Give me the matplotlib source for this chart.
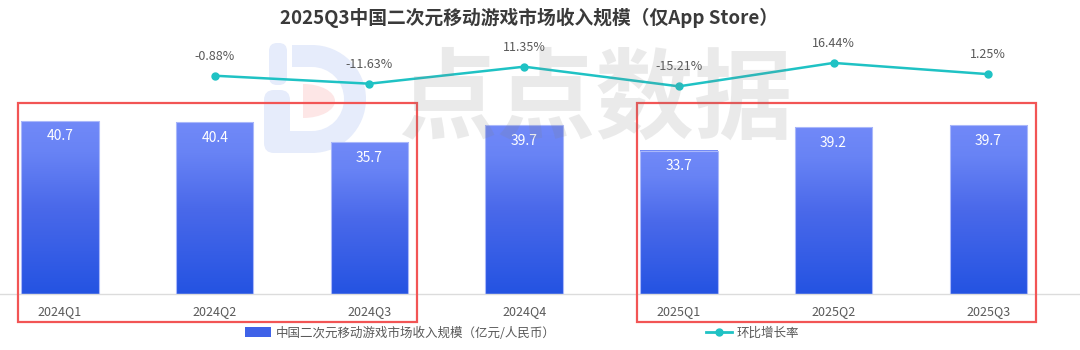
import matplotlib
matplotlib.use("Agg")
import matplotlib.pyplot as plt
import numpy as np
from matplotlib.colors import LinearSegmentedColormap
from matplotlib.patches import Rectangle, Wedge, FancyBboxPatch, Patch, Ellipse
from matplotlib.lines import Line2D

plt.rcParams['font.family'] = ['Noto Sans CJK SC', 'DejaVu Sans']

# data
quarters = ["2024Q1", "2024Q2", "2024Q3", "2024Q4", "2025Q1", "2025Q2", "2025Q3"]
revenue = [40.7, 40.4, 35.7, 39.7, 33.7, 39.2, 39.7]          # 亿元
growth_idx = [1, 2, 3, 4, 5, 6]
growth = [-0.88, -11.63, 11.35, -15.21, 16.44, 1.25]          # %
groups = [(0, 2), (4, 6)]                                     # boxed quarters

TEAL = "#1fc2c4"
RED = "#f25555"
GREY = "#595959"
LOGO_BLUE = "#e6ecfb"
LOGO_PINK = "#fde6e6"

fig = plt.figure(figsize=(10.8, 3.5), dpi=100)

# background layer (pixel coords) with the logo part of the watermark
bg = fig.add_axes([0, 0, 1, 1], zorder=0)
bg.set_xlim(0, 1080)
bg.set_ylim(350, 0)
bg.axis("off")
# pink half-ellipse inside the D
bg.add_patch(Ellipse((303, 101), 64, 34, facecolor=LOGO_PINK, edgecolor="none"))
bg.add_patch(Rectangle((268, 80), 35, 45, facecolor="white", edgecolor="none"))
# the "i" and the "D"
bg.add_patch(FancyBboxPatch((269, 43), 18, 42, boxstyle="round,pad=0,rounding_size=8",
                            facecolor=LOGO_BLUE, edgecolor="none"))
bg.add_patch(FancyBboxPatch((264, 90), 26, 63, boxstyle="round,pad=0,rounding_size=10",
                            facecolor=LOGO_BLUE, edgecolor="none"))
bg.add_patch(Rectangle((276, 131), 36, 22, facecolor=LOGO_BLUE, edgecolor="none"))
bg.add_patch(Rectangle((292, 45), 20, 22, facecolor=LOGO_BLUE, edgecolor="none"))
bg.add_patch(Wedge((312, 99), 54, -90, 90, width=22, facecolor=LOGO_BLUE, edgecolor="none"))

ax = fig.add_axes([0, 56 / 350, 1, 254 / 350], zorder=1)
ax.patch.set_alpha(0)

x = np.arange(len(quarters))
width = 0.5

# gradient bars: light on top, strong blue at the bottom
cmap = LinearSegmentedColormap.from_list(
    "bar", [(0, "#2453e2"), (0.5, "#4a69ea"), (0.82, "#6883f5"), (1, "#7189f8")])
grad = np.linspace(0, 1, 256).reshape(-1, 1)
for xi, h in zip(x, revenue):
    ax.imshow(grad, extent=[xi - width / 2, xi + width / 2, 0, h],
              cmap=cmap, aspect="auto", origin="lower", zorder=2)
ax.bar(x, revenue, width, facecolor="none", edgecolor="#aab8fa", linewidth=0.8, zorder=3)

for xi, h in zip(x, revenue):
    ax.annotate(f"{h:.1f}", (xi, h), xytext=(0, -11), textcoords="offset points",
                ha="center", va="center", color="white", fontsize=10, zorder=4)

ax.set_xlim(-0.388, 6.593)
ax.set_ylim(0, 59.76)
ax.set_xticks(x)
ax.set_xticklabels(quarters, color=GREY, fontsize=9)
ax.tick_params(axis="x", length=0, pad=8)
ax.set_yticks([])
for s in ["top", "right", "left"]:
    ax.spines[s].set_visible(False)
ax.spines["bottom"].set_color("#dcdcdc")
ax.spines["bottom"].set_linewidth(1)

# red boxes around the compared quarters
for a, b in groups:
    ax.add_patch(Rectangle((a - 0.27, -6.6), (b - a) + 0.58, 51.6, fill=False,
                           edgecolor=RED, linewidth=1.6, clip_on=False, zorder=6))

# growth line on a second axis
ax2 = ax.twinx()
ax2.set_ylim(-295.8, 47.4)
ax2.plot(growth_idx, growth, color=TEAL, linewidth=1.8, marker="o", markersize=5, zorder=5)
for xi, g in zip(growth_idx, growth):
    ax2.annotate(f"{g:.2f}%", (xi, g), xytext=(0, 14), textcoords="offset points",
                 ha="center", va="center", color=GREY, fontsize=9)
ax2.set_yticks([])
for s in ax2.spines.values():
    s.set_visible(False)

# text part of the watermark sits over everything, semi transparent
wm = fig.add_axes([0, 0, 1, 1], zorder=5)
wm.set_xlim(0, 1080)
wm.set_ylim(350, 0)
wm.axis("off")
wm.patch.set_alpha(0)
wm.text(595, 101, "点点数据", ha="center", va="center", fontsize=71, fontweight="bold",
        color="#808080", alpha=0.16)

fig.text(529 / 1080, 1 - 18 / 350, "2025Q3中国二次元移动游戏市场收入规模（仅App Store）",
         ha="center", va="center", fontsize=13.5, fontweight="bold", color="#3a3a3a")

handles = [Patch(facecolor="#3f62e8", edgecolor="none"),
           Line2D([], [], color=TEAL, linewidth=2, marker="o", markersize=5)]
fig.legend(handles, ["中国二次元移动游戏市场收入规模（亿元/人民币）", "环比增长率"],
           loc="center", bbox_to_anchor=(522 / 1080, 1 - 333 / 350), ncol=2,
           frameon=False, fontsize=9, labelcolor=GREY, handlelength=2.1,
           handleheight=0.9, handletextpad=0.4, columnspacing=12)

fig.savefig("out.png", dpi=100)
